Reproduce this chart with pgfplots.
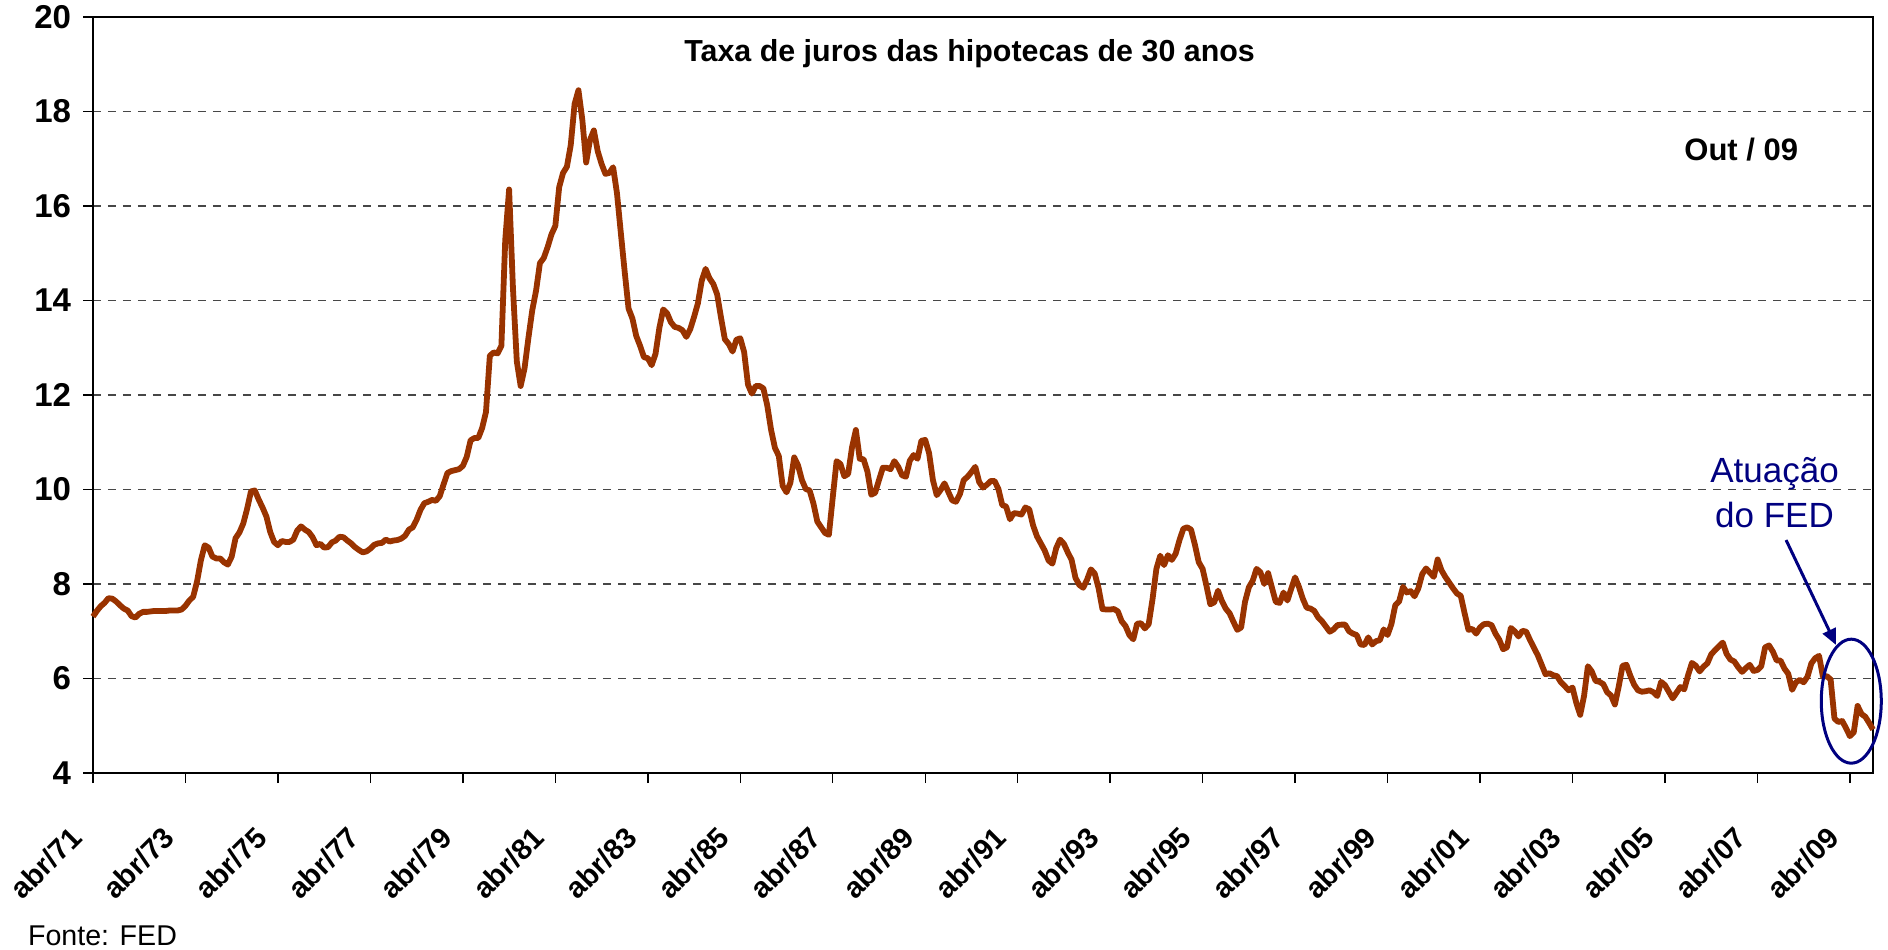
\documentclass[border=0pt]{standalone}
\usepackage{pgfplots}
\pgfplotsset{compat=1.18}
\usepackage{fontspec}
\setmainfont{Liberation Sans}
\usetikzlibrary{arrows.meta}

\definecolor{linebrown}{RGB}{153,51,0}
\definecolor{fednavy}{RGB}{0,0,128}

\begin{document}
\begin{tikzpicture}
\begin{axis}[
  width=890bp, height=378bp, scale only axis,
  xmin=1971.25, xmax=2009.75,
  ymin=4, ymax=20,
  clip=false,
  axis line style={black, line width=0.7bp},
  tick pos=left, tick align=outside,
  major tick length=5bp,
  every tick/.style={black, line width=0.7bp},
  ytick={4,6,8,10,12,14,16,18,20},
  yticklabels={4,6,8,10,12,14,16,18,20},
  xtick={1971.25,1973.25,1975.25,1977.25,1979.25,1981.25,1983.25,1985.25,1987.25,1989.25,
         1991.25,1993.25,1995.25,1997.25,1999.25,2001.25,2003.25,2005.25,2007.25,2009.25},
  xticklabels={abr/71,abr/73,abr/75,abr/77,abr/79,abr/81,abr/83,abr/85,abr/87,abr/89,
               abr/91,abr/93,abr/95,abr/97,abr/99,abr/01,abr/03,abr/05,abr/07,abr/09},
  /pgf/number format/assume math mode=true,
  xticklabel style={font=\bfseries\fontsize{14.6bp}{16bp}\selectfont,
                    xshift=-23.5bp, yshift=-40bp, rotate=45, anchor=center},
  yticklabel style={font=\bfseries\fontsize{16.5bp}{18bp}\selectfont, xshift=-2.5bp},
  ymajorgrids,
  major grid style={black!72, line width=0.7bp, dash pattern=on 4bp off 3.5bp},
]
\addplot[linebrown, line width=2.9bp, line join=round, no marks]
  table[x expr=1971.25+\coordindex/12, y index=0, row sep=\\, header=false] {
7.31\\7.43\\7.53\\7.60\\7.70\\7.69\\7.63\\7.55\\7.48\\
7.44\\7.32\\7.29\\7.37\\7.41\\7.41\\7.42\\7.43\\7.43\\7.43\\7.43\\7.44\\
7.44\\7.44\\7.46\\7.54\\7.65\\7.73\\8.05\\8.50\\8.82\\8.77\\8.58\\8.54\\
8.54\\8.46\\8.41\\8.58\\8.97\\9.09\\9.28\\9.59\\9.96\\9.98\\9.79\\9.62\\
9.43\\9.10\\8.89\\8.82\\8.91\\8.89\\8.89\\8.94\\9.13\\9.22\\9.15\\9.10\\
8.99\\8.82\\8.85\\8.77\\8.78\\8.88\\8.92\\9.00\\8.99\\8.92\\8.86\\8.78\\
8.72\\8.67\\8.69\\8.75\\8.83\\8.86\\8.87\\8.94\\8.90\\8.92\\8.93\\8.96\\
9.02\\9.15\\9.20\\9.36\\9.57\\9.71\\9.74\\9.78\\9.76\\9.86\\10.11\\10.35\\
10.39\\10.41\\10.43\\10.50\\10.69\\11.04\\11.09\\11.09\\11.30\\11.64\\12.83\\12.90\\
12.88\\13.04\\15.28\\16.35\\14.26\\12.71\\12.19\\12.56\\13.20\\13.79\\14.21\\14.79\\
14.90\\15.13\\15.40\\15.58\\16.40\\16.70\\16.83\\17.29\\18.16\\18.45\\17.83\\16.92\\
17.40\\17.60\\17.16\\16.89\\16.68\\16.70\\16.82\\16.27\\15.43\\14.61\\13.83\\13.62\\
13.25\\13.04\\12.80\\12.78\\12.63\\12.87\\13.42\\13.81\\13.73\\13.54\\13.44\\13.42\\
13.37\\13.23\\13.39\\13.65\\13.94\\14.42\\14.67\\14.47\\14.35\\14.13\\13.64\\13.18\\
13.08\\12.92\\13.17\\13.20\\12.91\\12.22\\12.03\\12.19\\12.19\\12.14\\11.78\\11.26\\
10.88\\10.71\\10.08\\9.94\\10.14\\10.68\\10.51\\10.20\\10.01\\9.98\\9.70\\9.32\\
9.20\\9.08\\9.04\\9.83\\10.60\\10.54\\10.28\\10.33\\10.89\\11.26\\10.65\\10.64\\
10.38\\9.89\\9.93\\10.20\\10.46\\10.46\\10.43\\10.60\\10.48\\10.30\\10.27\\10.61\\
10.73\\10.65\\11.03\\11.05\\10.77\\10.20\\9.88\\9.99\\10.13\\9.95\\9.77\\9.74\\
9.90\\10.20\\10.27\\10.37\\10.48\\10.16\\10.04\\10.10\\10.18\\10.18\\10.01\\9.67\\
9.64\\9.37\\9.50\\9.49\\9.47\\9.62\\9.58\\9.24\\9.01\\8.86\\8.71\\8.50\\
8.43\\8.76\\8.94\\8.85\\8.67\\8.51\\8.13\\7.98\\7.92\\8.09\\8.31\\8.22\\
7.91\\7.47\\7.46\\7.46\\7.47\\7.42\\7.21\\7.11\\6.92\\6.83\\7.16\\7.17\\
7.06\\7.15\\7.68\\8.32\\8.60\\8.40\\8.61\\8.51\\8.64\\8.93\\9.17\\9.20\\
9.15\\8.83\\8.46\\8.32\\7.96\\7.57\\7.61\\7.86\\7.64\\7.48\\7.38\\7.20\\
7.03\\7.08\\7.62\\7.93\\8.07\\8.32\\8.25\\8.00\\8.23\\7.92\\7.62\\7.60\\
7.82\\7.65\\7.90\\8.14\\7.94\\7.69\\7.50\\7.48\\7.43\\7.29\\7.21\\7.10\\
6.99\\7.04\\7.13\\7.14\\7.14\\7.00\\6.95\\6.92\\6.72\\6.71\\6.87\\6.72\\
6.79\\6.81\\7.04\\6.92\\7.15\\7.55\\7.63\\7.94\\7.82\\7.85\\7.74\\7.91\\
8.21\\8.33\\8.24\\8.15\\8.52\\8.29\\8.15\\8.03\\7.91\\7.80\\7.75\\7.38\\
7.03\\7.05\\6.95\\7.08\\7.15\\7.16\\7.13\\6.95\\6.82\\6.62\\6.66\\7.07\\
7.00\\6.89\\7.01\\6.99\\6.81\\6.65\\6.49\\6.29\\6.09\\6.11\\6.07\\6.05\\
5.92\\5.84\\5.75\\5.81\\5.48\\5.23\\5.63\\6.26\\6.15\\5.95\\5.93\\5.88\\
5.71\\5.64\\5.45\\5.83\\6.27\\6.29\\6.06\\5.87\\5.75\\5.72\\5.73\\5.75\\
5.71\\5.63\\5.93\\5.86\\5.72\\5.58\\5.70\\5.82\\5.77\\6.07\\6.33\\6.27\\
6.15\\6.25\\6.32\\6.51\\6.60\\6.68\\6.76\\6.52\\6.40\\6.36\\6.24\\6.14\\
6.22\\6.29\\6.16\\6.18\\6.26\\6.66\\6.70\\6.57\\6.38\\6.38\\6.21\\6.10\\
5.76\\5.92\\5.97\\5.92\\6.04\\6.32\\6.43\\6.48\\6.04\\6.05\\5.98\\5.15\\
5.08\\5.10\\4.95\\4.78\\4.86\\5.42\\5.25\\5.19\\5.06\\4.92\\
};

% titulo e anotacoes
\node[anchor=base, font=\bfseries\fontsize{15.2bp}{18bp}\selectfont]
  at (axis cs:1990.21,19.05) {Taxa de juros das hipotecas de 30 anos};
\node[anchor=base, font=\bfseries\fontsize{15.5bp}{18bp}\selectfont]
  at (axis cs:2006.90,16.97) {Out / 09};
\node[anchor=base, fednavy, font=\fontsize{17.5bp}{21bp}\selectfont]
  at (axis cs:2007.62,10.14) {Atuação};
\node[anchor=base, fednavy, font=\fontsize{17.5bp}{21bp}\selectfont]
  at (axis cs:2007.62,9.19) {do FED};
\draw[fednavy, line width=1.5bp, -{Triangle[length=8bp,width=7bp]}]
  (axis cs:2007.87,8.93) -- (axis cs:2008.95,6.71);
\draw[fednavy, line width=1.5bp]
  (axis cs:2009.28,5.52) ellipse [x radius=15bp, y radius=31bp];
\end{axis}

\node[anchor=base west, font=\fontsize{14.3bp}{17bp}\selectfont]
  at ([xshift=-36bp,yshift=-86bp]current axis.south west) {Fonte: FED};

\pgfresetboundingbox
\path (current axis.south west) ++(-46.5bp,-88.5bp) rectangle ++(944bp,475bp);
\end{tikzpicture}
\end{document}
